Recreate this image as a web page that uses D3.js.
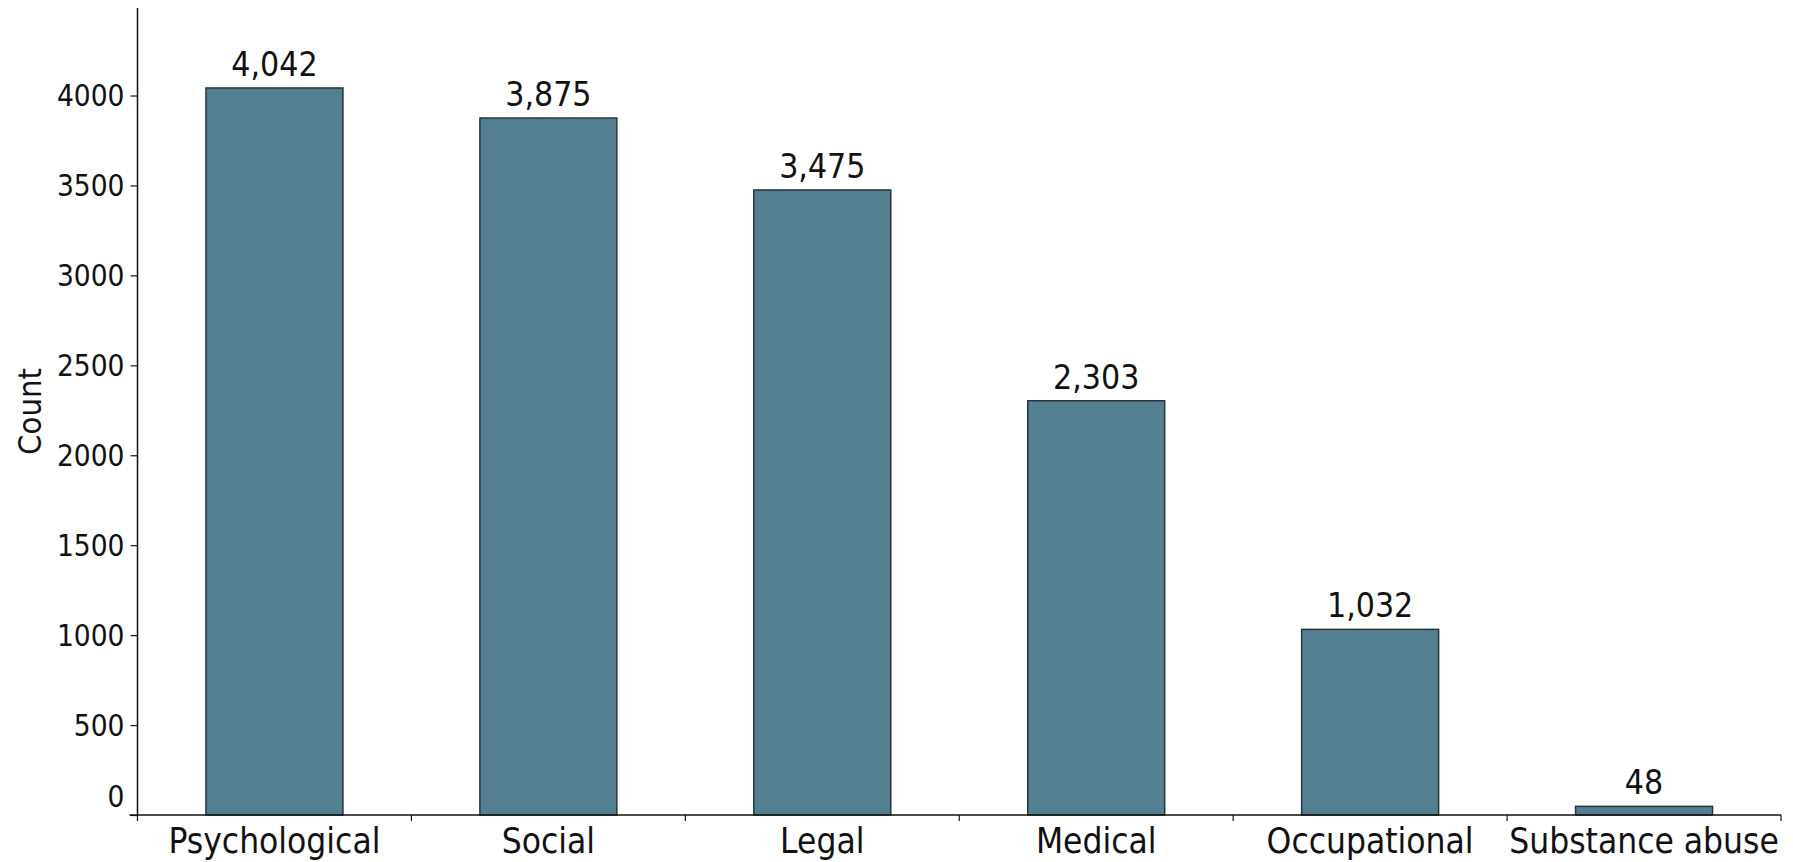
<!DOCTYPE html>
<html>
<head>
<meta charset="utf-8">
<script src="https://cdn.jsdelivr.net/npm/d3@7"></script>
<style>
  html, body { margin: 0; padding: 0; background: #fff; }
  svg text { font-family: "DejaVu Sans Condensed", "DejaVu Sans", sans-serif; font-stretch: condensed; fill: #111; }
</style>
</head>
<body>
<svg id="chart" width="1793" height="862"></svg>
<script>
const categories = ["Psychological", "Social", "Legal", "Medical", "Occupational", "Substance abuse"];
const counts = [4042, 3875, 3475, 2303, 1032, 48];
const yTicks = [0, 500, 1000, 1500, 2000, 2500, 3000, 3500, 4000];
const yLabel = "Count";

const svg = d3.select("#chart");
const mLeft = 137.5, mRight = 1781, mTop = 8, mBottom = 815;

const x = d3.scaleBand().domain(categories).range([mLeft, mRight]).paddingInner(0).paddingOuter(0);
const y = d3.scaleLinear().domain([0, d3.max(counts) * 1.11]).range([mBottom, mTop]);

// bars
svg.append("g").selectAll("rect").data(categories).join("rect")
  .attr("x", d => x(d) + x.bandwidth() * 0.25)
  .attr("width", x.bandwidth() * 0.5)
  .attr("y", (d, i) => y(counts[i]))
  .attr("height", (d, i) => y(0) - y(counts[i]))
  .attr("fill", "#537f91")
  .attr("stroke", "#26353c")
  .attr("stroke-width", 1.5);

// value labels
svg.append("g").selectAll("text").data(categories).join("text")
  .attr("x", d => x(d) + x.bandwidth() / 2)
  .attr("y", (d, i) => y(counts[i]) - 12)
  .attr("text-anchor", "middle")
  .style("font-size", "33.5px")
  .text((d, i) => d3.format(",")(counts[i]));

// y axis
const yAxis = svg.append("g").attr("transform", `translate(${mLeft},0)`)
  .call(d3.axisLeft(y).tickValues(yTicks).tickFormat(d3.format("d")).tickSize(7).tickPadding(6));
yAxis.select(".domain").attr("d", `M0,${mTop}V${mBottom}`).attr("stroke", "#111").attr("stroke-width", 1.5);
yAxis.selectAll(".tick line").attr("stroke", "#111").attr("stroke-width", 1.2);
yAxis.selectAll(".tick text").style("font-size", "29.5px").attr("fill", "#111")
  .attr("dy", d => d === 0 ? "-0.3em" : "0.34em");

// x axis with ticks at band edges
const xAxisG = svg.append("g").attr("transform", `translate(0,${mBottom})`);
xAxisG.append("path").attr("d", `M${mLeft - 8},0H${mRight}`).attr("stroke", "#111").attr("stroke-width", 1.5).attr("fill", "none");
const edges = categories.map(c => x(c)).concat([x.range()[1]]);
xAxisG.selectAll("line.edge").data(edges).join("line")
  .attr("class", "edge")
  .attr("x1", d => d).attr("x2", d => d)
  .attr("y1", 0).attr("y2", 6)
  .attr("stroke", "#111").attr("stroke-width", 1.2);
xAxisG.selectAll("text").data(categories).join("text")
  .attr("x", d => x(d) + x.bandwidth() / 2)
  .attr("y", 38)
  .attr("text-anchor", "middle")
  .style("font-size", "35px")
  .text(d => d);

// y label
svg.append("text")
  .attr("transform", `translate(41,${(mTop + mBottom) / 2}) rotate(-90)`)
  .attr("text-anchor", "middle")
  .style("font-size", "32.5px")
  .text(yLabel);
</script>
</body>
</html>
